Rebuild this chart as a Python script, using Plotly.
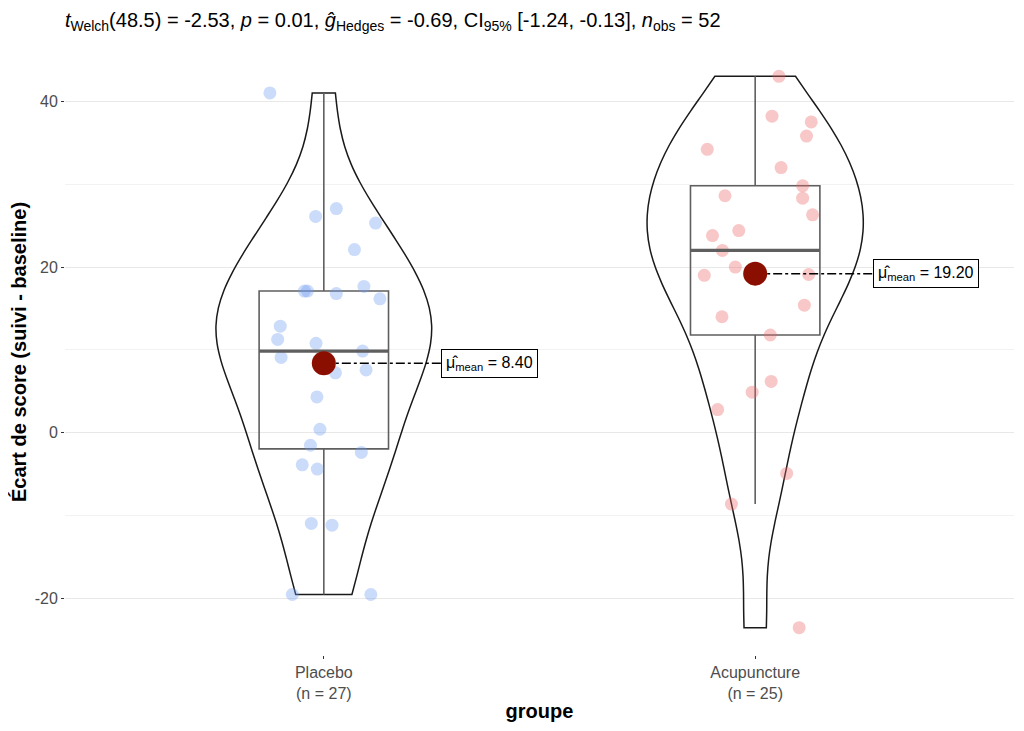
import numpy as np
import plotly.graph_objects as go

groups = ["Placebo", "Acupuncture"]
group_n = ["27", "25"]

placebo = [41.0, 26.1, 27.05, 25.3, 22.1, 17.1, 17.1, 16.8, 17.66, 16.16,
           12.86, 11.27, 10.8, 9.09, 9.86, 7.24, 7.59, 4.33, 0.43, -1.5,
           -2.36, -3.86, -4.37, -10.93, -11.14, -19.5, -19.5]
placebo_jitter = [-0.125, -0.019, 0.029, 0.12, 0.071, -0.038, -0.045, 0.029,
                  0.093, 0.130, -0.101, -0.107, -0.018, -0.099, 0.090, 0.027,
                  0.098, -0.016, -0.009, -0.031, 0.087, -0.050, -0.015,
                  -0.029, 0.019, -0.073, 0.109]

acupuncture = [43.0, 38.2, 37.5, 35.8, 34.2, 32.0, 29.8, 28.6, 28.3, 26.3,
               24.4, 23.8, 22.0, 20.0, 19.0, 19.1, 15.4, 14.0, 11.8, 6.2,
               4.9, 2.8, -4.9, -8.6, -23.5]
acupuncture_jitter = [0.055, 0.039, 0.130, 0.119, -0.111, 0.060, 0.110,
                      -0.070, 0.110, 0.133, -0.038, -0.099, -0.076, -0.046,
                      -0.118, 0.124, 0.114, -0.077, 0.035, 0.037, -0.007,
                      -0.087, 0.073, -0.055, 0.102]

y_ticks = [-20, 0, 20, 40]
y_ticklabels = ["-20", "0", "20", "40"]

title_text = ("<i>t</i><sub>Welch</sub>(48.5) = -2.53, <i>p</i> = 0.01, "
              "<i>ĝ</i><sub>Hedges</sub> = -0.69, CI<sub>95%</sub> "
              "[-1.24, -0.13], <i>n</i><sub>obs</sub> = 52")

point_colors = ["rgba(110,155,240,0.36)", "rgba(235,100,100,0.36)"]
font = "Liberation Sans, Arial, sans-serif"


def nrd0(v):
    v = np.asarray(v)
    q1, q3 = np.percentile(v, [25, 75])
    return 0.9 * min(v.std(ddof=1), (q3 - q1) / 1.34) * len(v) ** -0.2


fig = go.Figure()
series = [placebo, acupuncture]
jitters = [placebo_jitter, acupuncture_jitter]

for i, (vals, jit) in enumerate(zip(series, jitters)):
    pos = i + 1
    arr = np.asarray(vals)
    # jittered raw points
    fig.add_trace(go.Scatter(
        x=pos + np.asarray(jit), y=arr, mode="markers",
        marker=dict(size=13, color=point_colors[i], line=dict(width=0)),
        showlegend=False, hoverinfo="y"))

    q1, med, q3 = np.percentile(arr, [25, 50, 75])
    iqr = q3 - q1
    lo = arr[arr >= q1 - 1.5 * iqr].min()
    hi = arr[arr <= q3 + 1.5 * iqr].max()
    fig.add_trace(go.Box(
        x=[pos], q1=[q1], median=[med], q3=[q3],
        lowerfence=[lo], upperfence=[hi],
        width=0.3, whiskerwidth=0, fillcolor="rgba(0,0,0,0)",
        line=dict(color="#5f5f5f", width=1.6), showlegend=False))
    # thicker median bar like ggplot
    fig.add_trace(go.Scatter(
        x=[pos - 0.15, pos + 0.15], y=[med, med], mode="lines",
        line=dict(color="#5f5f5f", width=3.2), showlegend=False,
        hoverinfo="skip"))

    fig.add_trace(go.Violin(
        x=[pos] * len(arr), y=arr, spanmode="hard", bandwidth=nrd0(arr),
        scalemode="width", width=0.5, points=False,
        fillcolor="rgba(0,0,0,0)", line=dict(color="#1a1a1a", width=1.5),
        box_visible=False, meanline_visible=False, showlegend=False,
        hoverinfo="skip"))

    mean = arr.mean()
    label_x = pos + 0.272
    fig.add_trace(go.Scatter(
        x=[pos, label_x], y=[mean, mean], mode="lines",
        line=dict(color="black", width=1.5, dash="dashdot"),
        showlegend=False, hoverinfo="skip"))
    fig.add_trace(go.Scatter(
        x=[pos], y=[mean], mode="markers",
        marker=dict(size=24, color="#8b0f00"), showlegend=False))
    fig.add_annotation(
        x=label_x, y=mean, xanchor="left", yanchor="middle",
        text="μ̂<sub>mean</sub> = %.2f" % mean, showarrow=False,
        font=dict(size=16, color="black", family=font),
        bgcolor="white", bordercolor="black", borderwidth=1, borderpad=4)

# the page adds an 8px body margin, so the figure is 8px smaller each way
fig.update_layout(
    width=1016, height=723,
    margin=dict(l=57, r=10, t=41, b=76),
    paper_bgcolor="white", plot_bgcolor="white",
    font=dict(family=font, color="#4d4d4d"),
    boxmode="overlay", violinmode="overlay",
    title=dict(text=title_text, x=0.056, xanchor="left", y=0.983,
               yanchor="middle", xref="container", yref="container",
               font=dict(size=20, color="black", family=font)),
    xaxis=dict(range=[0.4, 2.6], tickvals=[1, 2], automargin=False,
               ticktext=["%s<br>(n = %s)" % (g, n)
                         for g, n in zip(groups, group_n)],
               showgrid=False, zeroline=False, ticks="outside", ticklen=3,
               tickcolor="#333333", tickfont=dict(size=16, color="#4d4d4d"),
               title=dict(text="<b>groupe</b>", standoff=2,
                          font=dict(size=20, color="black"))),
    yaxis=dict(range=[-26.8, 46.3], tickvals=y_ticks, ticktext=y_ticklabels,
               automargin=False,
               showgrid=True, gridcolor="#e8e8e8", gridwidth=1.2,
               zeroline=False, ticks="outside", ticklen=3,
               tickcolor="#333333", tickfont=dict(size=16, color="#4d4d4d"),
               minor=dict(tickvals=[-10, 10, 30], showgrid=True,
                          gridcolor="#f2f2f2", gridwidth=1, ticks=""),
               title=dict(text="<b>Écart de score (suivi - baseline)</b>",
                          standoff=10, font=dict(size=20, color="black"))),
)

fig.write_html("out.html")
